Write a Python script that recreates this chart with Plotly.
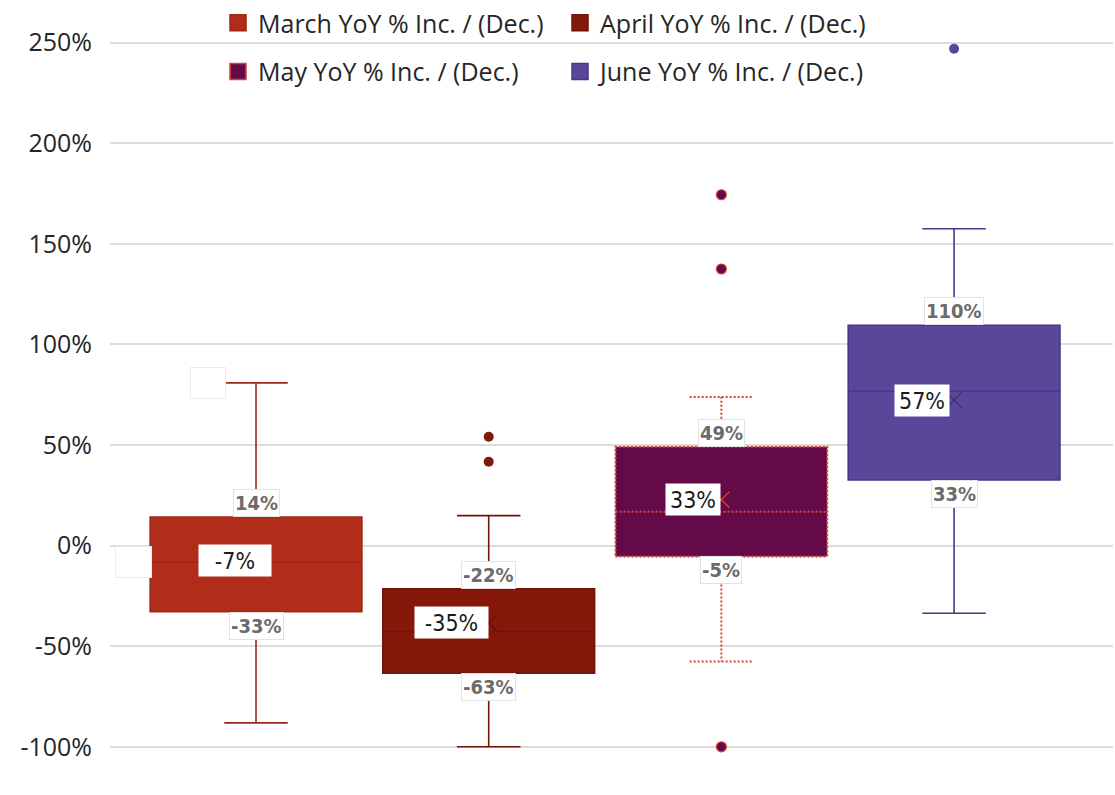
import plotly.graph_objects as go

# ---------------- data ----------------
categories = ["March YoY % Inc. / (Dec.)", "April YoY % Inc. / (Dec.)",
              "May YoY % Inc. / (Dec.)", "June YoY % Inc. / (Dec.)"]
q1 = [-0.328, -0.634, -0.054, 0.326]
median = [-0.081, -0.427, 0.168, 0.767]
q3 = [0.142, -0.215, 0.492, 1.095]
lower = [-0.881, -1.00, -0.576, -0.336]
upper = [0.809, 0.149, 0.739, 1.575]
mean = [-0.075, -0.383, 0.228, 0.723]
outliers = [[], [0.541, 0.417], [1.744, 1.375, -1.00], [2.47]]
q3_labels = ["14%", "-22%", "49%", "110%"]
q1_labels = ["-33%", "-63%", "-5%", "33%"]
mean_labels = ["-7%", "-35%", "33%", "57%"]
y_ticks = [-1.0, -0.5, 0.0, 0.5, 1.0, 1.5, 2.0, 2.5]
y_tick_text = ["%d%%" % round(v * 100) for v in y_ticks]

# ---------------- style ----------------
fills = ["#B22C1A", "#86180B", "#650A48", "#5A479A"]
lines = ["#9E2818", "#6E1409", "#650A48", "#47368A"]
mean_mark = ["#7E1C10", "#5E1007", "#D4452F", "#3E2F78"]
dot_red = "#D4452F"
BOX_W = 0.91
WHISK_W = 0.3
mean_lab_w = [70, 71, 52, 52]
mean_lab_xshift = [16, 0, 0, -4]
LABEL_FONT = "DejaVu Sans Condensed, Liberation Sans Narrow, sans-serif"
TEXT_FONT = "Open Sans, Noto Sans, sans-serif"

fig = go.Figure()
xpos = list(range(len(categories)))

for i, name in enumerate(categories):
    dotted = (i == 2)
    fig.add_trace(go.Box(
        x=[xpos[i]], q1=[q1[i]], median=[median[i]], q3=[q3[i]],
        lowerfence=[lower[i]], upperfence=[upper[i]],
        width=BOX_W, whiskerwidth=WHISK_W, boxpoints=False,
        fillcolor=fills[i],
        line=dict(color=lines[i], width=0 if dotted else 1.6),
        showlegend=False, hoverinfo="skip", name=name,
    ))
    if dotted:
        x0, x1 = xpos[i] - BOX_W / 2, xpos[i] + BOX_W / 2
        c0, c1 = xpos[i] - BOX_W * WHISK_W / 2, xpos[i] + BOX_W * WHISK_W / 2
        xs = [x0, x1, x1, x0, x0, None, x0, x1, None,
              xpos[i], xpos[i], None, xpos[i], xpos[i], None,
              c0, c1, None, c0, c1]
        ys = [q1[i], q1[i], q3[i], q3[i], q1[i], None, median[i], median[i], None,
              q3[i], upper[i], None, q1[i], lower[i], None,
              upper[i], upper[i], None, lower[i], lower[i]]
        fig.add_trace(go.Scatter(x=xs, y=ys, mode="lines",
                                 line=dict(color=dot_red, width=2, dash="2px,2px"),
                                 showlegend=False, hoverinfo="skip"))
    # mean marker
    fig.add_trace(go.Scatter(
        x=[xpos[i]], y=[mean[i]], mode="markers",
        marker=dict(symbol="x-thin", size=16,
                    line=dict(color=mean_mark[i], width=1.3)),
        showlegend=False, hoverinfo="skip"))
    # outliers
    if outliers[i]:
        fig.add_trace(go.Scatter(
            x=[xpos[i]] * len(outliers[i]), y=outliers[i], mode="markers",
            marker=dict(symbol="circle", size=10, color=fills[i] if i != 1 else "#7C1A0C",
                        line=dict(color=dot_red if dotted else fills[i], width=1.2 if dotted else 0)),
            showlegend=False, hoverinfo="skip"))
    # legend entry
    fig.add_trace(go.Scatter(
        x=[None], y=[None], mode="markers", name=name,
        marker=dict(symbol="square", size=16, color=fills[i],
                    line=dict(color=dot_red if dotted else lines[i], width=1.5)),
        legend="legend" if i < 2 else "legend2"))

annotations = []
for i in range(len(categories)):
    annotations.append(dict(
        x=xpos[i], y=q3[i], xref="x", yref="y", text=q3_labels[i],
        showarrow=False, xanchor="center", yanchor="bottom",
        font=dict(family=LABEL_FONT, size=20, color="#6B6B6B", weight="bold"),
        bgcolor="white", bordercolor="#E2E2E2", borderwidth=1, borderpad=1))
    annotations.append(dict(
        x=xpos[i], y=q1[i], xref="x", yref="y", text=q1_labels[i],
        showarrow=False, xanchor="center", yanchor="top",
        font=dict(family=LABEL_FONT, size=20, color="#6B6B6B", weight="bold"),
        bgcolor="white", bordercolor="#E2E2E2", borderwidth=1, borderpad=1))
    annotations.append(dict(
        x=xpos[i], y=mean[i], xref="x", yref="y", text=mean_labels[i],
        showarrow=False, xanchor="right", yanchor="middle", xshift=mean_lab_xshift[i],
        width=mean_lab_w[i], height=29, align="center",
        font=dict(family=LABEL_FONT, size=23, color="#1A1A1A"),
        bgcolor="white"))

# empty label boxes next to March
annotations.append(dict(
    x=xpos[0] - BOX_W * WHISK_W / 2, y=upper[0], xref="x", yref="y", text=" ",
    showarrow=False, xanchor="right", yanchor="middle", xshift=2,
    width=32, height=28, bgcolor="white", bordercolor="#EBEBEB", borderwidth=1))
annotations.append(dict(
    x=xpos[0] - BOX_W / 2, y=median[0], xref="x", yref="y", text=" ",
    showarrow=False, xanchor="right", yanchor="middle", xshift=2,
    width=33, height=28, bgcolor="white", bordercolor="#EBEBEB", borderwidth=1))

legend_common = dict(orientation="h", xanchor="left", yanchor="middle",
                     bgcolor="rgba(0,0,0,0)", entrywidth=297, entrywidthmode="pixels",
                     font=dict(family=TEXT_FONT, size=25, color="#262626"))

fig.update_layout(
    width=1115, height=795,
    margin=dict(l=110, r=2, t=0, b=0),
    paper_bgcolor="white", plot_bgcolor="white",
    legend=dict(x=0.1077, y=1 - 21 / 795, **legend_common),
    legend2=dict(x=0.1077, y=1 - 70 / 795, **legend_common),
    xaxis=dict(range=[-0.6275, 3.683], showticklabels=False, showgrid=False,
               zeroline=False, showline=False),
    yaxis=dict(range=[-1.2395, 2.702], tickvals=y_ticks, ticktext=y_tick_text,
               showgrid=True, gridcolor="#DCDCDC", gridwidth=2,
               zeroline=True, zerolinecolor="#DCDCDC", zerolinewidth=2,
               showline=False, ticks="", ticklabelstandoff=17,
               tickfont=dict(family=TEXT_FONT, size=25, color="#262626")),
    annotations=annotations,
    showlegend=True,
)

fig.write_html("out.html")
